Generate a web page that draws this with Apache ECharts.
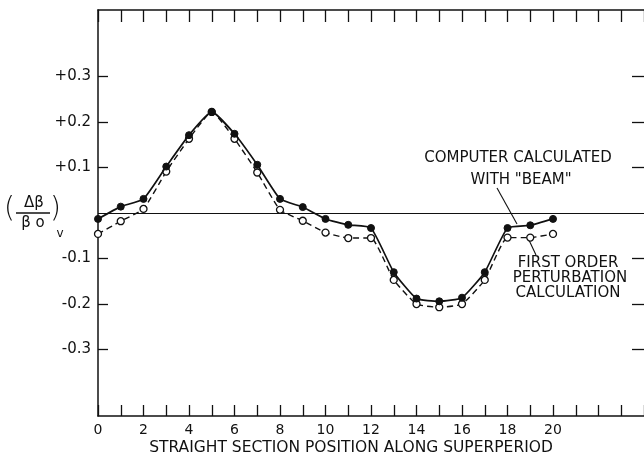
<!DOCTYPE html>
<html>
<head>
<meta charset="utf-8">
<script src="https://cdn.jsdelivr.net/npm/echarts@6/dist/echarts.min.js"></script>
<style>
html,body{margin:0;padding:0;background:#fff;}
#chart{width:644px;height:457px;}
</style>
</head>
<body>
<div id="chart"></div>
<script>
// ---- data ----
var positions = [0,1,2,3,4,5,6,7,8,9,10,11,12,13,14,15,16,17,18,19,20];
var beamValues = [-0.013, 0.014, 0.031, 0.102, 0.171, 0.222, 0.174, 0.106, 0.031, 0.013, -0.013, -0.026, -0.033, -0.130, -0.188, -0.194, -0.186, -0.130, -0.033, -0.027, -0.013];
var perturbValues = [-0.046, -0.018, 0.009, 0.091, 0.163, 0.222, 0.163, 0.089, 0.007, -0.017, -0.043, -0.055, -0.055, -0.147, -0.200, -0.207, -0.200, -0.147, -0.054, -0.054, -0.046];
var xTickLabels = [0,2,4,6,8,10,12,14,16,18,20];
var yTickValues = [-0.3,-0.2,-0.1,0.1,0.2,0.3];
var yTickLabels = ['-0.3','-0.2','-0.1','+0.1','+0.2','+0.3'];

var beamData = positions.map(function(p,i){return [p, beamValues[i]];});
var perturbData = positions.map(function(p,i){return [p, perturbValues[i]];});

var INK = '#111';
var FONT = 'DejaVu Sans';

var chart = echarts.init(document.getElementById('chart'), null, {renderer:'canvas'});

function yFmt(v){
  for (var i=0;i<yTickValues.length;i++){ if (Math.abs(yTickValues[i]-v)<1e-9) return yTickLabels[i]; }
  return '';
}

var option = {
  animation:false,
  backgroundColor:'#fff',
  grid:{left:98, top:10, width:550, bottom:41, containLabel:false},
  xAxis:[{
    type:'value', min:0, max:24, interval:1, position:'bottom',
    axisLine:{show:true, onZero:false, lineStyle:{color:INK, width:1.5}},
    axisTick:{show:true, inside:true, length:11, lineStyle:{color:INK, width:1.3}},
    axisLabel:{show:true, customValues:xTickLabels, margin:7, color:INK, fontSize:14, fontFamily:FONT,
      formatter:function(v){return String(v);}},
    splitLine:{show:false}
  },{
    type:'value', min:0, max:24, interval:1, position:'top',
    axisLine:{show:true, onZero:false, lineStyle:{color:INK, width:1.5}},
    axisTick:{show:true, inside:true, length:12, lineStyle:{color:INK, width:1.3}},
    axisLabel:{show:false},
    splitLine:{show:false}
  }],
  yAxis:[{
    type:'value', min:-0.446, max:0.446, position:'left',
    axisLine:{show:true, onZero:false, lineStyle:{color:INK, width:1.5}},
    axisTick:{show:true, inside:true, length:10, customValues:yTickValues, lineStyle:{color:INK, width:1.3}},
    axisLabel:{show:true, customValues:yTickValues, margin:7, color:INK, fontSize:15, fontFamily:FONT, formatter:yFmt},
    splitLine:{show:false}
  },{
    type:'value', min:-0.446, max:0.446, position:'right',
    axisLine:{show:false, onZero:false, lineStyle:{color:INK, width:1.5}},
    axisTick:{show:true, inside:true, length:12, customValues:yTickValues, lineStyle:{color:INK, width:1.3}},
    axisLabel:{show:false},
    splitLine:{show:false}
  }],
  series:[{
    name:'Computer calculated with "BEAM"',
    type:'line', xAxisIndex:0, yAxisIndex:0,
    data:beamData,
    symbol:'circle', symbolSize:7,
    itemStyle:{color:INK, borderColor:INK, borderWidth:1},
    lineStyle:{color:INK, width:1.7, type:'solid'},
    smooth:0.15,
    z:3,
    markLine:{
      silent:true, symbol:['none','none'], label:{show:false},
      lineStyle:{color:INK, width:1.2, type:'solid'},
      data:[{yAxis:0}]
    }
  },{
    name:'First order perturbation calculation',
    type:'line', xAxisIndex:0, yAxisIndex:0,
    data:perturbData,
    symbol:'circle', symbolSize:7,
    itemStyle:{color:'#fff', borderColor:INK, borderWidth:1.3},
    lineStyle:{color:INK, width:1.4, type:[6,4]},
    smooth:0.15,
    z:2
  }],
  graphic:[
    // y-axis label (Δβ/βo)v
    {type:'text', left:4, top:196, style:{text:'(', font:'lighter 28px '+FONT, fill:INK}},
    {type:'text', x:34, y:203, style:{text:'Δβ', font:'15px '+FONT, fill:INK, align:'center', verticalAlign:'middle'}},
    {type:'line', shape:{x1:16, y1:213, x2:50, y2:213}, style:{stroke:INK, lineWidth:1.3}},
    {type:'text', x:33, y:223, style:{text:'β o', font:'15px '+FONT, fill:INK, align:'center', verticalAlign:'middle'}},
    {type:'text', left:50, top:196, style:{text:')', font:'lighter 28px '+FONT, fill:INK}},
    {type:'text', x:60, y:234, style:{text:'v', font:'12px '+FONT, fill:INK, align:'center', verticalAlign:'middle'}},
    // x-axis title
    {type:'text', x:351, y:448, style:{text:'STRAIGHT SECTION POSITION ALONG SUPERPERIOD', font:'15.5px '+FONT, fill:INK, align:'center', verticalAlign:'middle'}},
    // annotations
    {type:'text', x:518, y:158, style:{text:'COMPUTER CALCULATED', font:'15px '+FONT, fill:INK, align:'center', verticalAlign:'middle'}},
    {type:'text', x:521, y:180, style:{text:'WITH "BEAM"', font:'15px '+FONT, fill:INK, align:'center', verticalAlign:'middle'}},
    {type:'line', shape:{x1:497, y1:188, x2:517, y2:224}, style:{stroke:INK, lineWidth:1.1}},
    {type:'text', x:568, y:263, style:{text:'FIRST ORDER', font:'15px '+FONT, fill:INK, align:'center', verticalAlign:'middle'}},
    {type:'text', x:570, y:278, style:{text:'PERTURBATION', font:'15px '+FONT, fill:INK, align:'center', verticalAlign:'middle'}},
    {type:'text', x:568, y:293, style:{text:'CALCULATION', font:'15px '+FONT, fill:INK, align:'center', verticalAlign:'middle'}},
    {type:'line', shape:{x1:536, y1:255, x2:528, y2:238}, style:{stroke:INK, lineWidth:1.1}}
  ]
};
chart.setOption(option);
</script>
</body>
</html>
